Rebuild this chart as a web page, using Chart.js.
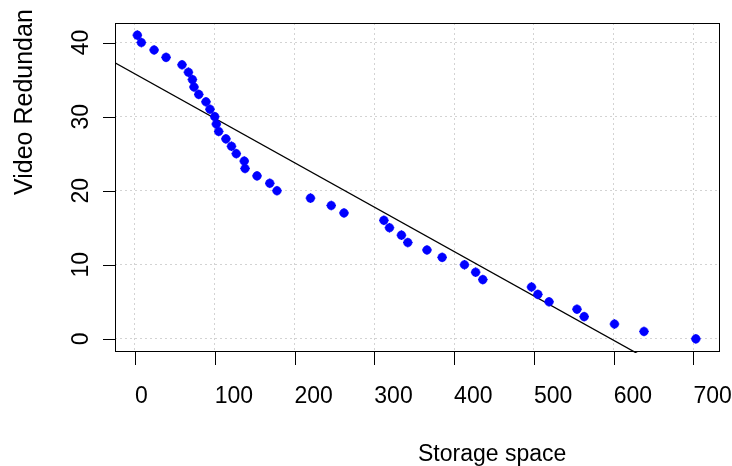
<!DOCTYPE html>
<html>
<head>
<meta charset="utf-8">
<script src="https://cdn.jsdelivr.net/npm/chart.js@4"></script>
<style>
  html, body { margin: 0; padding: 0; background: #fff; }
  #wrap { width: 732px; height: 466px; position: relative; }
</style>
</head>
<body>
<div id="wrap"><canvas id="chart"></canvas></div>
<script>
// storage space (x) and video redundancy (y)
const storage = [3, 8, 24, 39, 59, 67, 72, 74, 80, 89, 94, 100, 102, 105, 114, 121, 127, 137, 138, 153,
  169, 178, 220, 246, 262, 312, 319, 334, 342, 366, 385, 413, 427, 436, 497, 505, 519, 554, 563, 601, 638, 703];
const redundancy = [41, 40, 39, 38, 37, 36, 35, 34, 33, 32, 31, 30, 29, 28, 27, 26, 25, 24, 23, 22,
  21, 20, 19, 18, 17, 16, 15, 14, 13, 12, 11, 10, 9, 8, 7, 6, 5, 4, 3, 2, 1, 0];
const xTicks = [0, 100, 200, 300, 400, 500, 600, 700];
const yTicks = [0, 10, 20, 30, 40];
const xRange = [-25, 732];
const yRange = [-1.64, 42.64];

const FONT = '"Liberation Sans", Arial, sans-serif';

// least squares fit, drawn like abline()
function fitLine(xs, ys) {
  const n = xs.length;
  const mx = xs.reduce((a, b) => a + b, 0) / n;
  const my = ys.reduce((a, b) => a + b, 0) / n;
  let sxy = 0, sxx = 0;
  for (let i = 0; i < n; i++) {
    sxy += (xs[i] - mx) * (ys[i] - my);
    sxx += (xs[i] - mx) * (xs[i] - mx);
  }
  const slope = sxy / sxx;
  return { slope, intercept: my - slope * mx };
}
const fit = fitLine(storage, redundancy);
const points = storage.map((x, i) => ({ x, y: redundancy[i] }));
const linePts = xRange.map(x => ({ x, y: fit.intercept + fit.slope * x }));

// box, tick marks and axis text in base-graphics style
const rAxes = {
  id: 'rAxes',
  afterDraw(chart) {
    const { ctx, chartArea: a, scales: { x, y } } = chart;
    ctx.save();
    ctx.strokeStyle = '#000';
    ctx.lineWidth = 1;
    ctx.strokeRect(Math.round(a.left) + 0.5, Math.round(a.top) + 0.5,
      Math.round(a.right - a.left), Math.round(a.bottom - a.top));

    ctx.beginPath();
    xTicks.forEach(v => {
      const px = Math.round(x.getPixelForValue(v)) + 0.5;
      ctx.moveTo(px, a.bottom);
      ctx.lineTo(px, a.bottom + 14);
    });
    yTicks.forEach(v => {
      const py = Math.round(y.getPixelForValue(v)) + 0.5;
      ctx.moveTo(a.left, py);
      ctx.lineTo(a.left - 12, py);
    });
    ctx.stroke();

    ctx.fillStyle = '#000';
    ctx.font = '23px ' + FONT;
    ctx.textBaseline = 'alphabetic';
    // x labels start at their tick, as in the picture
    ctx.textAlign = 'left';
    xTicks.forEach(v => ctx.fillText(String(v), x.getPixelForValue(v), 403));

    ctx.textAlign = 'center';
    yTicks.forEach(v => {
      ctx.save();
      ctx.translate(88, y.getPixelForValue(v));
      ctx.rotate(-Math.PI / 2);
      ctx.fillText(String(v), 0, 0);
      ctx.restore();
    });

    ctx.textAlign = 'left';
    ctx.fillText('Storage space', 418, 461);

    ctx.save();
    ctx.font = '25px ' + FONT;
    ctx.translate(32, 195);
    ctx.rotate(-Math.PI / 2);
    ctx.fillText('Video Redundan', 0, 0);
    ctx.restore();
    ctx.restore();
  }
};

const grid = {
  color: '#d3d3d3',
  lineWidth: 1,
  drawTicks: false
};

new Chart(document.getElementById('chart'), {
  type: 'scatter',
  data: {
    datasets: [
      {
        type: 'line',
        data: linePts,
        borderColor: '#000',
        borderWidth: 1.3,
        pointRadius: 0,
        clip: { left: 0, top: 0, right: 0, bottom: 2 },
        order: 3
      },
      {
        data: points,
        pointStyle: 'circle',
        pointRadius: 4.3,
        backgroundColor: '#0000ff',
        borderColor: '#0000ff',
        borderWidth: 0.5,
        order: 2
      },
      {
        data: points,
        pointStyle: 'cross',
        pointRadius: 4.8,
        borderColor: '#0000ff',
        borderWidth: 1,
        order: 1
      }
    ]
  },
  options: {
    responsive: true,
    maintainAspectRatio: false,
    animation: false,
    events: [],
    layout: { padding: { left: 115, top: 23, right: 13, bottom: 115 } },
    plugins: { legend: { display: false }, tooltip: { enabled: false } },
    scales: {
      x: {
        type: 'linear',
        min: xRange[0],
        max: xRange[1],
        afterBuildTicks: s => { s.ticks = xTicks.map(v => ({ value: v })); },
        afterFit: s => { s.height = 0; },
        ticks: { display: false },
        grid: grid,
        border: { display: false, dash: [2, 3] }
      },
      y: {
        type: 'linear',
        min: yRange[0],
        max: yRange[1],
        afterBuildTicks: s => { s.ticks = yTicks.map(v => ({ value: v })); },
        afterFit: s => { s.width = 0; },
        ticks: { display: false },
        grid: grid,
        border: { display: false, dash: [2, 3] }
      }
    }
  },
  plugins: [rAxes]
});
</script>
</body>
</html>
